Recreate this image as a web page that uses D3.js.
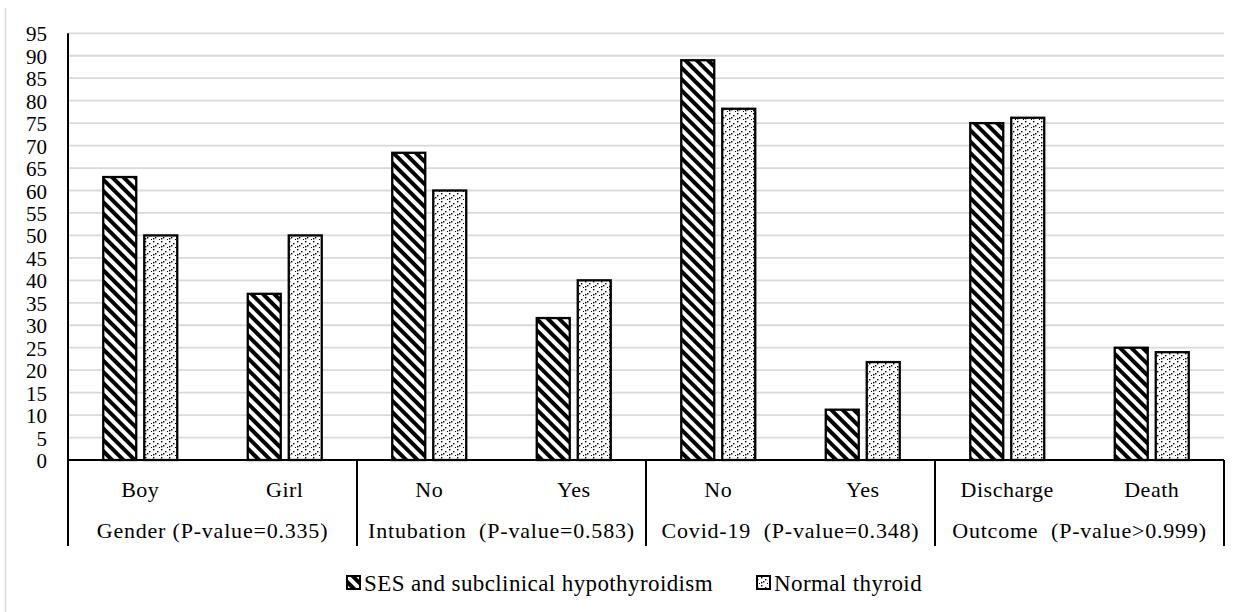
<!DOCTYPE html>
<html><head><meta charset="utf-8">
<script src="https://cdn.jsdelivr.net/npm/d3@7"></script>
<style>
body{margin:0;background:#fff;}
text{font-family:"Liberation Serif","Tinos","Liberation Sans",serif;fill:#000;}
</style></head>
<body><svg id="c" width="1240" height="612"></svg>
<script>
const categories = ["Boy","Girl","No","Yes","No","Yes","Discharge","Death"];
const groups = ["Gender (P-value=0.335)","Intubation  (P-value=0.583)","Covid-19  (P-value=0.348)","Outcome  (P-value>0.999)"];
const seriesNames = ["SES and subclinical hypothyroidism","Normal thyroid"];
const sesValues = [63, 37, 68.4, 31.6, 89, 11.2, 75, 25];
const normalValues = [50, 50, 60, 40, 78.2, 21.8, 76.2, 24];
const yTicks = d3.range(0, 96, 5);

const FF = '"Liberation Serif","Tinos","Liberation Sans",serif';
const svg = d3.select("#c");
const L = 68, R = 1224, T = 33.3, B = 460;
const defs = svg.append("defs");
const hatch = defs.append("pattern").attr("id","hatch").attr("patternUnits","userSpaceOnUse")
  .attr("width",8).attr("height",8).attr("patternTransform","rotate(-45)");
hatch.append("rect").attr("width",8).attr("height",8).attr("fill","#fff");
hatch.append("rect").attr("x",0).attr("width",4).attr("height",8).attr("fill","#000");
const dots = defs.append("pattern").attr("id","dots").attr("patternUnits","userSpaceOnUse")
  .attr("width",8).attr("height",8);
dots.append("rect").attr("width",8).attr("height",8).attr("fill","#fff");
[[1,1],[5,3],[3,5],[7,7],[1,6]].forEach(([x,y])=>dots.append("rect").attr("x",x).attr("y",y).attr("width",1.4).attr("height",1.4).attr("fill","#000"));

svg.append("line").attr("x1",5.5).attr("x2",5.5).attr("y1",8).attr("y2",612).attr("stroke","#d9d9d9").attr("stroke-width",1.5);

const y = d3.scaleLinear().domain([0,95]).range([B,T]);
const x = d3.scaleBand().domain(d3.range(categories.length)).range([L,R]).padding(0);
const xs = d3.scaleBand().domain([0,1]).range([0,x.bandwidth()]).paddingInner(8/41).paddingOuter(0.86);
const xg = d3.scaleBand().domain(d3.range(groups.length)).range([L,R]).padding(0);

svg.append("g").selectAll("line").data(yTicks.filter(d=>d>0)).join("line")
  .attr("x1",L).attr("x2",R).attr("y1",d=>y(d)).attr("y2",d=>y(d))
  .attr("stroke","#d9d9d9").attr("stroke-width",1.8);

const ya = svg.append("g").attr("transform",`translate(${L},0)`)
  .call(d3.axisLeft(y).tickValues(yTicks).tickSize(0).tickPadding(21));
ya.attr("font-family",FF);
ya.select(".domain").remove();
ya.selectAll("text").attr("font-size",21).attr("dy","0.36em");

const data = categories.map((c,i)=>[sesValues[i], normalValues[i]]);
const fills = ["url(#hatch)","url(#dots)"];
const gb = svg.append("g");
data.forEach((vals,i)=>{
  vals.forEach((v,s)=>{
    gb.append("rect").attr("x",x(i)+xs(s)).attr("width",xs.bandwidth())
      .attr("y",y(v)).attr("height",B-y(v))
      .attr("fill",fills[s]).attr("stroke","#000").attr("stroke-width",2.3);
  });
});

const axisBottom = 546;
svg.append("line").attr("x1",L).attr("x2",R).attr("y1",B).attr("y2",B).attr("stroke","#000").attr("stroke-width",2);
svg.append("g").selectAll("line").data(d3.range(groups.length+1)).join("line")
  .attr("x1",d=>d<groups.length?xg(d):R).attr("x2",d=>d<groups.length?xg(d):R)
  .attr("y1",d=>d===0?T:B).attr("y2",axisBottom).attr("stroke","#000").attr("stroke-width",2);

svg.append("g").selectAll("text").data(categories).join("text")
  .attr("x",(d,i)=>x(i)+x.bandwidth()/2).attr("y",497).attr("text-anchor","middle")
  .attr("font-size",22).attr("letter-spacing",0.5).text(d=>d);
svg.append("g").selectAll("text").data(groups).join("text")
  .attr("x",(d,i)=>xg(i)+xg.bandwidth()/2).attr("y",538).attr("text-anchor","middle")
  .attr("font-size",22).attr("letter-spacing",0.8).style("white-space","pre").text(d=>d);

const legX = [347, 757];
seriesNames.forEach((n,i)=>{
  svg.append("rect").attr("x",legX[i]).attr("y",576).attr("width",13).attr("height",13)
    .attr("fill",fills[i]).attr("stroke","#000").attr("stroke-width",2);
  svg.append("text").attr("x",legX[i]+17).attr("y",591).attr("font-size",23).attr("letter-spacing",0.4).text(n);
});
</script></body></html>
